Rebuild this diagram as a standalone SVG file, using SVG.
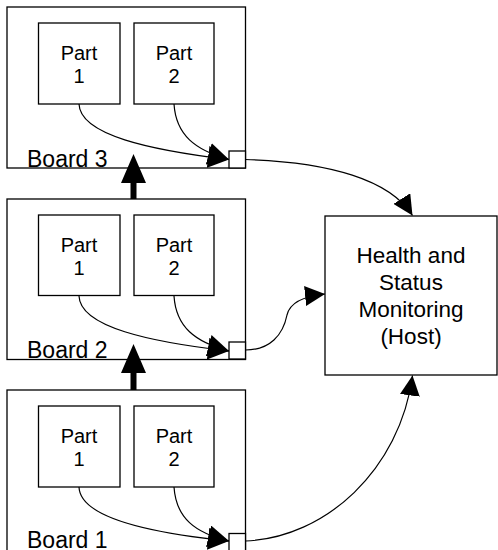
<svg xmlns="http://www.w3.org/2000/svg" width="498" height="550" viewBox="0 0 498 550">
<style>
.box{fill:#fff;stroke:#000;stroke-width:1.3}
.port{fill:#fff;stroke:#000;stroke-width:1.3}
.conn{fill:none;stroke:#000;stroke-width:1.2}
.t{font-family:"Liberation Sans",Arial,sans-serif;fill:#000}
.pt{font-size:20px;text-anchor:middle}
.bl{font-size:23px}
.ht{font-size:22.5px;text-anchor:middle}
</style>
<defs>
<marker id="ah" viewBox="0 0 21 22" refX="21" refY="11" markerWidth="21" markerHeight="22" markerUnits="userSpaceOnUse" orient="auto">
<path d="M0,0 L21,11 L0,22 z" fill="#000"/>
</marker>
<marker id="bh" viewBox="0 0 20 20" refX="20" refY="10" markerWidth="20" markerHeight="20" markerUnits="userSpaceOnUse" orient="auto">
<path d="M0,0 L20,10 L0,20 z" fill="#000"/>
</marker>
</defs>
<g id="board3">
<rect class="box" x="7" y="7" width="238.5" height="161"/>
<text class="t bl" x="27" y="167">Board 3</text>
</g>
<g id="b3part1"><rect class="box" x="38.5" y="23" width="81.5" height="81"/>
<text class="t pt" x="79" y="60">Part</text><text class="t pt" x="79" y="83">1</text></g>
<g id="b3part2"><rect class="box" x="134" y="23" width="80" height="81"/>
<text class="t pt" x="174" y="60">Part</text><text class="t pt" x="174" y="83">2</text></g>
<g id="b3port"><rect class="port" x="229" y="151" width="16.5" height="17"/></g>

<g id="board2">
<rect class="box" x="7" y="199" width="238.5" height="160.5"/>
<text class="t bl" x="27" y="358">Board 2</text>
</g>
<g id="b2part1"><rect class="box" x="38.5" y="215" width="81.5" height="80.5"/>
<text class="t pt" x="79" y="252">Part</text><text class="t pt" x="79" y="275">1</text></g>
<g id="b2part2"><rect class="box" x="134" y="215" width="80" height="80.5"/>
<text class="t pt" x="174" y="252">Part</text><text class="t pt" x="174" y="275">2</text></g>
<g id="b2port"><rect class="port" x="229" y="342" width="16.5" height="17"/></g>

<g id="board1">
<rect class="box" x="7" y="390" width="238.5" height="170"/>
<text class="t bl" x="27" y="548">Board 1</text>
</g>
<g id="b1part1"><rect class="box" x="38.5" y="406" width="81.5" height="81"/>
<text class="t pt" x="79" y="443">Part</text><text class="t pt" x="79" y="466">1</text></g>
<g id="b1part2"><rect class="box" x="134" y="406" width="80" height="81"/>
<text class="t pt" x="174" y="443">Part</text><text class="t pt" x="174" y="466">2</text></g>
<g id="b1port"><rect class="port" x="229" y="533.5" width="16.5" height="20"/></g>

<g id="host">
<rect class="box" x="325" y="216" width="172" height="159"/>
<text class="t ht" x="411" y="263">Health and</text>
<text class="t ht" x="411" y="290">Status</text>
<text class="t ht" x="411" y="317">Monitoring</text>
<text class="t ht" x="411" y="344">(Host)</text>
</g>

<g id="connectors">
<path class="conn" d="M79,104 C80,135 150,150 229,159.5" marker-end="url(#ah)"/>
<path class="conn" d="M174,104 C176,135 195,150 229,159.5" marker-end="url(#ah)"/>
<path class="conn" d="M79,296 C80,327 150,342 229,351" marker-end="url(#ah)"/>
<path class="conn" d="M174,296 C176,327 195,342 229,351" marker-end="url(#ah)"/>
<path class="conn" d="M79,487 C80,518 150,533 229,541" marker-end="url(#ah)"/>
<path class="conn" d="M174,487 C176,518 195,533 229,541" marker-end="url(#ah)"/>
<path class="conn" d="M245.5,159.5 C330,162 390,180 412.5,215.5" marker-end="url(#bh)"/>
<path class="conn" d="M245.5,350 C270,350 283,335 287,315 C290,302 305,296 325,294" marker-end="url(#bh)"/>
<path class="conn" d="M245.5,541 C325,538 400,470 412.5,375.5" marker-end="url(#bh)"/>
<path d="M130.5,199 L130.5,183 L121,183 L133.5,154 L146,183 L136.5,183 L136.5,199 z" fill="#000"/>
<path d="M130.5,390 L130.5,373 L121,373 L133.5,344 L146,373 L136.5,373 L136.5,390 z" fill="#000"/>
</g>
</svg>
